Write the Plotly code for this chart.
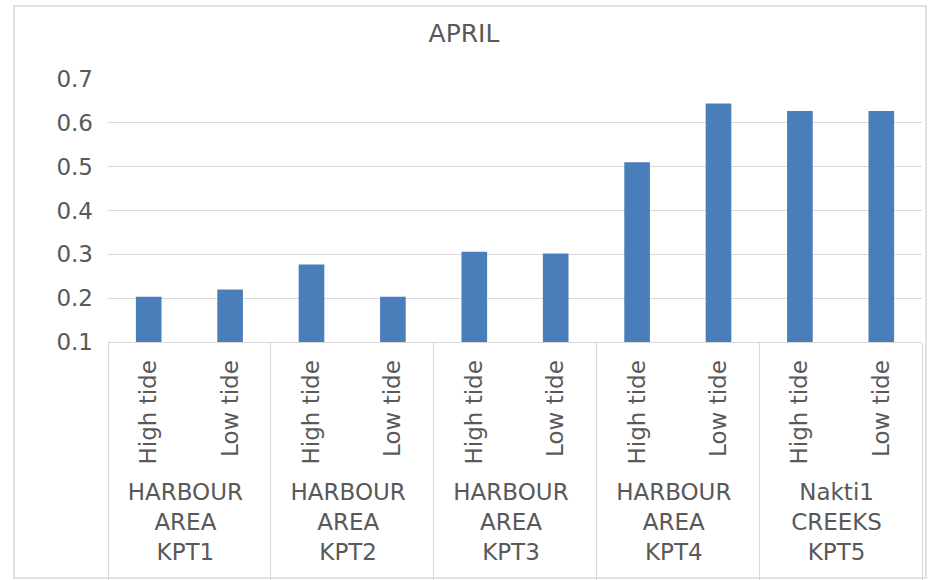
import plotly.graph_objects as go

sites = ["HARBOUR<br>AREA<br>KPT1", "HARBOUR<br>AREA<br>KPT2", "HARBOUR<br>AREA<br>KPT3",
         "HARBOUR<br>AREA<br>KPT4", "Nakti1<br>CREEKS<br>KPT5"]
tides = ["High tide", "Low tide"]
values = [0.203, 0.220, 0.277, 0.203, 0.306, 0.302, 0.510, 0.644, 0.627, 0.627]
y_ticks = [0.1, 0.2, 0.3, 0.4, 0.5, 0.6, 0.7]

# trailing blank line only lengthens the group dividers down to the frame
outer = [s + "<br> " for s in sites for _ in tides]
inner = [t for _ in sites for t in tides]

TXT = "#595959"
GRID = "#d9d9d9"
FONT = "DejaVu Sans"

fig = go.Figure(go.Bar(x=[outer, inner], y=values, marker_color="#4a7ebb",
                       marker_line_width=0))

fig.update_layout(
    width=928, height=580,
    margin=dict(l=108, r=6, t=79, b=238),
    paper_bgcolor="white", plot_bgcolor="white",
    bargap=0.685,
    showlegend=False,
    font=dict(family=FONT, size=22, color=TXT),
    title=dict(text="APRIL", x=0.5, xref="container", y=1 - 33 / 580, yanchor="middle",
               xanchor="center", font=dict(family=FONT, size=25, color=TXT)),
    shapes=[dict(type="rect", xref="paper", yref="paper",
                 x0=(14 - 108) / 814, x1=(926 - 108) / 814,
                 y0=(342 - 578) / 263, y1=(342 - 6) / 263,
                 line=dict(color=GRID, width=1.5), fillcolor="rgba(0,0,0,0)", layer="below")],
)

fig.update_xaxes(type="multicategory", tickangle=-90, ticks="", showline=True,
                 linecolor=GRID, linewidth=1, showdividers=True, dividercolor=GRID,
                 dividerwidth=1, showgrid=False, ticklabelstandoff=8, automargin=False,
                 tickfont=dict(family=FONT, size=23, color=TXT))
fig.update_yaxes(range=[0.1, 0.7], tickvals=y_ticks, ticktext=[f"{v:.1f}" for v in y_ticks],
                 showgrid=True, gridcolor=GRID, gridwidth=1, zeroline=False, showline=False,
                 ticks="", ticklabelstandoff=14, automargin=False,
                 tickfont=dict(family=FONT, size=23, color=TXT))

fig.write_html("out.html", config={"displayModeBar": False},
               post_script="document.body.style.margin='0';")
